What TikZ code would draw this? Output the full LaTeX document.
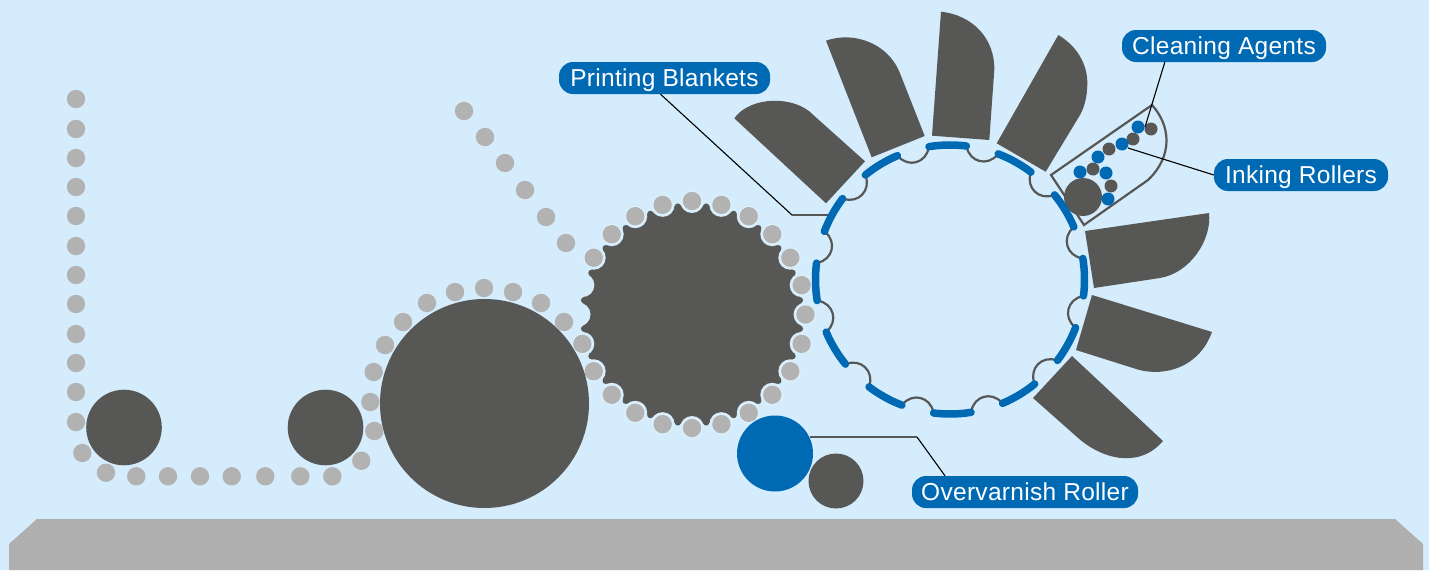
\documentclass[tikz,border=0pt]{standalone}
\usepackage{fontspec}
\setmainfont{Liberation Sans}[LetterSpace=1.2]
\definecolor{bgc}{HTML}{D4ECFB}
\definecolor{darkc}{HTML}{575756}
\definecolor{dotc}{HTML}{B2B2B2}
\definecolor{bluec}{HTML}{0069B4}
\definecolor{basec}{HTML}{AFAFAF}
\definecolor{haloc}{HTML}{DDF1FC}
\tikzset{
  pill/.style={fill=bluec,text=white,rounded corners=14pt,inner sep=0pt,minimum height=32pt,text height=18pt,text depth=1.4pt,font=\fontsize{24.5}{28}\selectfont},
  leader/.style={draw=black,line width=1.1pt},
  leaderdark/.style={draw=darkc,line width=1.4pt},
  blade/.style={fill=darkc,draw=none},
  notchline/.style={draw=darkc,line width=2.2pt},
  segline/.style={draw=bluec,line width=7.5pt,line cap=round},
  chaindot/.style={fill=dotc},
  dk/.style={fill=darkc},
  bl/.style={fill=bluec}
}
\begin{document}
\begin{tikzpicture}[x=1pt,y=-1pt]
\useasboundingbox (0,0) rectangle (1429,570);
\fill[bgc] (0,0) rectangle (1429,570);
% base
\fill[basec] (37,519) -- (1395,519) -- (1423,544) -- (1423,570) -- (9,570) -- (9,544) -- cycle;
% gear
\fill[dk] (692,314.5) circle[radius=110pt];
\foreach \a in {0,15,...,345}
  \fill[bgc] ({692+113.5*cos(\a)},{314.5-113.5*sin(\a)}) circle[radius=12pt];
\foreach \a in {7.5,22.5,...,352.5}
  \fill[dk] ({692+109*cos(\a)},{314.5-109*sin(\a)}) circle[radius=3pt];
\foreach \a in {0,15,...,150,195,210,...,345}{
  \fill[haloc] ({692+113.5*cos(\a)},{314.5-113.5*sin(\a)}) circle[radius=10.6pt];
  \fill[chaindot] ({692+113.5*cos(\a)},{314.5-113.5*sin(\a)}) circle[radius=9.2pt];
}
% large rollers
\fill[dk] (484.5,403.5) circle[radius=104.5pt];
\fill[dk] (124,427.5) circle[radius=37.8pt];
\fill[dk] (325.5,427.5) circle[radius=37.8pt];
\fill[bl] (775,453.5) circle[radius=38pt];
\fill[dk] (836,481) circle[radius=27.5pt];
% paper chain dots
\foreach \x/\y in {76/99,76/129,76/158,76/187,76/216,76/246,76/275,76/304,76/334,76/363,76/392,76/422,82.3/453,106/472.7,136.3/476.3,168/476.3,200/476.3,231.7/476.3,265.3/476.3,300.3/476.3,332.3/476.3,361.3/460.7,374.3/431,370.3/402,373.7/372,385/345,403/322,427/303,455/292,484/288,513/292,541/303,564/322,464/111,485/137,505/163,525/190,546/217,566/243}
  \fill[chaindot] (\x,\y) circle[radius=9.2pt];
% blades
\fill[blade] (734.3,118.3) .. controls (750,96) and (794.5,95) .. (813.3,115) -- (865,161.3) -- (826,203.3) -- cycle;
\fill[blade] (826,40.7) .. controls (853,31) and (888,42.6) .. (900,73.3) -- (924.7,136) -- (871.7,157.3) -- cycle;
\fill[blade] (941,11.7) .. controls (972,15) and (995,38) .. (994.3,70) -- (989.3,140) -- (932,135.7) -- cycle;
\fill[blade] (1058.3,35) .. controls (1080,48) and (1088,68) .. (1087.3,85) .. controls (1087,96) and (1085,106) .. (1080,115) -- (1045.7,171.7) -- (996.7,143.3) -- cycle;
\fill[blade] (1085,231) -- (1209,213) .. controls (1212,240) and (1190,273) .. (1160,278) -- (1094,288) -- cycle;
\fill[blade] (1092,295) -- (1212,332) .. controls (1198,370) and (1160,378) .. (1133,368) -- (1076,350) -- cycle;
\fill[blade] (1072,356) -- (1163,441) .. controls (1138,470) and (1100,458) .. (1077,437) -- (1033,398) -- cycle;
% blanket cylinder
\coordinate (blanketEnd) at (828,215);
\coordinate (blanketBend) at (792,215);
\foreach \a in {16,46,...,346}{
  \draw[notchline] ({950+133.5*cos(\a+6.8)},{279.5-133.5*sin(\a+6.8)})
    .. controls ({950+119*cos(\a+4.4)},{279.5-119*sin(\a+4.4)}) and ({950+119*cos(\a-4.4)},{279.5-119*sin(\a-4.4)})
    .. ({950+133.5*cos(\a-6.8)},{279.5-133.5*sin(\a-6.8)});
}
% inking unit
\draw[notchline] (1051,175) -- (1152,105) .. controls (1170,125) and (1174,155) .. (1148,180) -- (1084,225) -- cycle;
\fill[dk] (1083,197) circle[radius=19pt];
\foreach \x/\y in {1151/129,1133/139,1109/149,1093/169,1111/186}
  \fill[dk] (\x,\y) circle[radius=6.5pt];
\foreach \x/\y in {1138/127,1122/144,1098/157,1080/172,1106/173,1108/199}
  \fill[bl] (\x,\y) circle[radius=6.5pt];
% labels
\node[pill,minimum width=204pt] (clean) at (1224,46) {Cleaning Agents};
\node[pill,minimum width=174pt] (ink) at (1301,175) {Inking Rollers};
\node[pill,minimum width=211pt] (print) at (664.5,78) {Printing Blankets};
\node[pill,minimum width=226pt] (over) at (1025,492) {Overvarnish Roller};
\coordinate (cleanEnd) at (1145,127);
\coordinate (inkEnd) at (1128,148);
\coordinate (overEnd) at (810,437);
\coordinate (overBend) at (917,437);
\draw[leader] (clean.south west) ++(43,0) -- (cleanEnd);
\draw[leader] (ink.west) -- (inkEnd);
\draw[leader] (print.south) ++(-4,0) -- (blanketBend);
\draw[leaderdark] (blanketBend) -- (blanketEnd);
\draw[leader] (over.north) ++(-80,0) -- (overBend);
\draw[leaderdark] (overBend) -- (overEnd);
% blue segments
\foreach \a in {1,31,...,331}
  \draw[segline] plot[domain=\a-8:\a+8,samples=9] ({950+134.5*cos(\x)},{279.5-134.5*sin(\x)});
\end{tikzpicture}
\end{document}
